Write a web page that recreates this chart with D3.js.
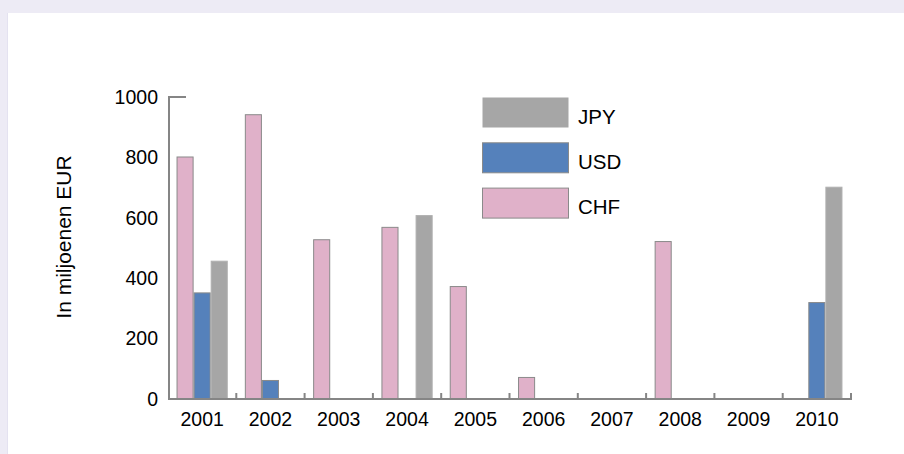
<!DOCTYPE html>
<html>
<head>
<meta charset="utf-8">
<script src="https://cdn.jsdelivr.net/npm/d3@7/dist/d3.min.js"></script>
<style>
  html, body { margin: 0; padding: 0; background: #edebf5; }
  svg { display: block; font-family: "Liberation Sans", Arial, sans-serif; }
</style>
</head>
<body>
<svg id="chart" width="904" height="454"></svg>
<script>
// Annual amounts per currency, in millions of euros
const years = ["2001", "2002", "2003", "2004", "2005", "2006", "2007", "2008", "2009", "2010"];
const seriesNames = ["CHF", "USD", "JPY"];
const chfValues = [803, 943, 529, 570, 374, 73, 0, 523, 0, 0];
const usdValues = [353, 63, 0, 0, 0, 0, 0, 0, 0, 321];
const jpyValues = [458, 0, 0, 609, 0, 0, 0, 0, 0, 703];
const yTicks = [0, 200, 400, 600, 800, 1000];
const legendOrder = ["JPY", "USD", "CHF"];

const valuesBySeries = { CHF: chfValues, USD: usdValues, JPY: jpyValues };
const fills = { CHF: "#e0b1c9", USD: "#5581bb", JPY: "#a6a6a6" };
const strokes = { CHF: "#8a8a8a", USD: "#8a8a8a", JPY: "#b0b0b0" };
const fontFamily = "Liberation Sans, Arial, sans-serif";

const svg = d3.select("#chart");

// white panel inside the tinted frame
svg.append("rect").attr("x", 7).attr("y", 13).attr("width", 897).attr("height", 441)
  .attr("fill", "#ffffff");
svg.append("line").attr("x1", 7.5).attr("x2", 7.5).attr("y1", 13).attr("y2", 454)
  .attr("stroke", "#e4e2f0").attr("stroke-width", 1);

const x0 = d3.scaleBand().domain(years).range([168, 851]).paddingInner(0).paddingOuter(0);
const x1 = d3.scaleBand().domain(seriesNames)
  .range([x0.bandwidth() * 0.125, x0.bandwidth() * 0.875]).padding(0);
const y = d3.scaleLinear().domain([0, 1000]).range([399, 97]);

// bars
const groups = svg.append("g").selectAll("g").data(years).join("g")
  .attr("transform", d => `translate(${x0(d)},0)`);

groups.selectAll("rect")
  .data((d, i) => seriesNames.map(s => ({ s, v: valuesBySeries[s][i] })))
  .join("rect")
  .attr("x", d => x1(d.s) + 0.5)
  .attr("width", x1.bandwidth() - 1)
  .attr("y", d => y(d.v) + 0.5)
  .attr("height", d => Math.max(0, y(0) - y(d.v) - 1))
  .attr("fill", d => fills[d.s])
  .attr("stroke", d => strokes[d.s])
  .attr("stroke-width", 1);

// y axis: line with a cap at the top, labels only
const axisColor = "#858585";
svg.append("line").attr("x1", 169).attr("x2", 169).attr("y1", y(1000)).attr("y2", y(0) + 1)
  .attr("stroke", axisColor).attr("stroke-width", 2);
svg.append("line").attr("x1", 168).attr("x2", 186).attr("y1", y(1000)).attr("y2", y(1000))
  .attr("stroke", axisColor).attr("stroke-width", 2);

const yAxis = d3.axisLeft(y).tickValues(yTicks).tickSize(0).tickPadding(11)
  .tickFormat(d3.format("d"));
const gy = svg.append("g").attr("transform", "translate(169,0)").call(yAxis);
gy.select(".domain").remove();
gy.selectAll("text").attr("font-size", 19.5).attr("fill", "#000")
  .attr("font-family", fontFamily);

// x axis: baseline with small upward ticks between years
svg.append("line").attr("x1", 168).attr("x2", 852).attr("y1", y(0)).attr("y2", y(0))
  .attr("stroke", axisColor).attr("stroke-width", 2);
const boundaries = years.map(d => x0(d)).concat([x0.range()[1]]);
svg.append("g").selectAll("line").data(boundaries.slice(1)).join("line")
  .attr("x1", d => d).attr("x2", d => d)
  .attr("y1", y(0)).attr("y2", y(0) - 6)
  .attr("stroke", axisColor).attr("stroke-width", 2);

const xAxis = d3.axisBottom(x0).tickSize(0).tickPadding(13.5);
const gx = svg.append("g").attr("transform", `translate(0,${y(0)})`).call(xAxis);
gx.select(".domain").remove();
gx.selectAll("text").attr("font-size", 19.5).attr("fill", "#000")
  .attr("font-family", fontFamily);

// axis title
svg.append("text")
  .attr("transform", "translate(71,237) rotate(-90)")
  .attr("text-anchor", "middle")
  .attr("font-size", 21)
  .attr("fill", "#000")
  .text("In miljoenen EUR");

// legend
const legend = svg.append("g").selectAll("g").data(legendOrder).join("g")
  .attr("transform", (d, i) => `translate(482,${97 + i * 45.3})`);
legend.append("rect")
  .attr("x", 0.5).attr("y", 0.5).attr("width", 86).attr("height", 30)
  .attr("fill", d => fills[d])
  .attr("stroke", d => d === "JPY" ? "none" : strokes[d]);
legend.append("text")
  .attr("x", 96).attr("y", 26.5)
  .attr("font-size", 20.5).attr("fill", "#000")
  .text(d => d);
</script>
</body>
</html>
